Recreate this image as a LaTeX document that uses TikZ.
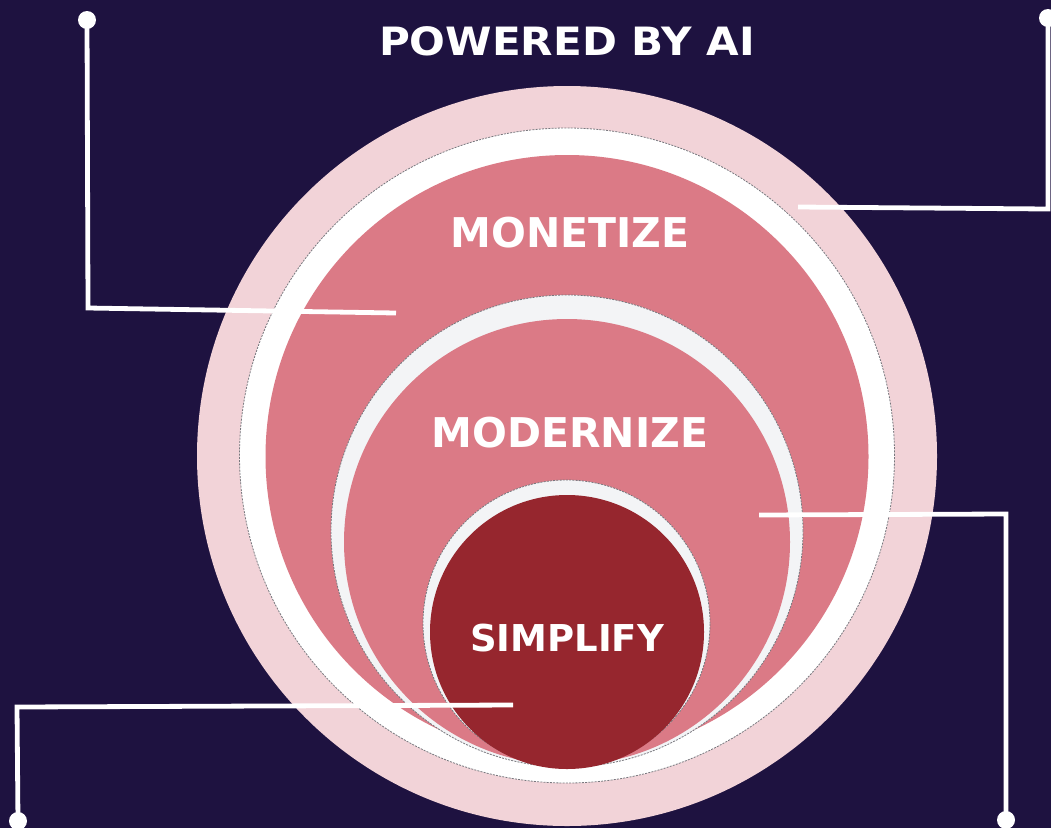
\documentclass[tikz,border=0pt]{standalone}
\usepackage{fontspec}
\setmainfont{DejaVu Sans}
\definecolor{bgnavy}{HTML}{1E1240}
\definecolor{ringpink}{HTML}{F2D3D8}
\definecolor{rosepink}{HTML}{DB7A86}
\definecolor{ringgray}{HTML}{F3F4F6}
\definecolor{deepred}{HTML}{96262E}
\definecolor{dashgray}{HTML}{77777D}
\tikzset{
  outline/.style={draw=dashgray, line width=0.8pt, dash pattern=on 2pt off 1.2pt},
  leader/.style={draw=white, line width=4.8pt},
  enddot/.style={circle, fill=white, inner sep=0pt, minimum size=18pt},
  label/.style={text=white, font=\bfseries, inner sep=0pt},
}
\begin{document}
\begin{tikzpicture}[x=1pt,y=-1pt]
\fill[bgnavy] (0,0) rectangle (1051,828);
\useasboundingbox (0,0) rectangle (1051,828);
% rings
\fill[ringpink] (567,456) circle (370pt);
\path[fill=white, outline] (567,455.5) circle (327.5pt);
\fill[rosepink] (567,456.5) circle (301.5pt);
\path[fill=ringgray, outline] (567,531) circle (236pt);
\fill[rosepink] (567,542) circle (223pt);
\path[fill=ringgray, outline] (566.5,623.5) circle (143.5pt);
\fill[deepred] (567,632) circle (137pt);
% labels
\node[label, font=\bfseries\fontsize{39}{39}\selectfont] (title) at (567,41) {\scalebox{1.08}[1]{POWERED BY AI}};
\node[label, font=\bfseries\fontsize{41}{41}\selectfont] (mon) at (570,233) {MONETIZE};
\node[label, font=\bfseries\fontsize{41}{41}\selectfont] (mod) at (570,433) {MODERNIZE};
\node[label, font=\bfseries\fontsize{37}{37}\selectfont] (sim) at (567,638) {SIMPLIFY};
% leader lines
\node[enddot] (d1) at (87,20) {};
\coordinate (c1) at (88,308);
\coordinate (e1) at (396,313);
\draw[leader] (d1.center) -- (c1) -- (e1);
\node[enddot] (d2) at (1048,18) {};
\coordinate (c2) at (1048,209);
\coordinate (e2) at (798,207);
\draw[leader] (d2.center) -- (c2) -- (e2);
\node[enddot] (d3) at (18,821) {};
\coordinate (c3) at (17,707);
\coordinate (e3) at (513,705);
\draw[leader] (d3.center) -- (c3) -- (e3);
\node[enddot] (d4) at (1006,820) {};
\coordinate (c4) at (1006,514);
\coordinate (e4) at (759,515);
\draw[leader] (d4.center) -- (c4) -- (e4);
\end{tikzpicture}
\end{document}
